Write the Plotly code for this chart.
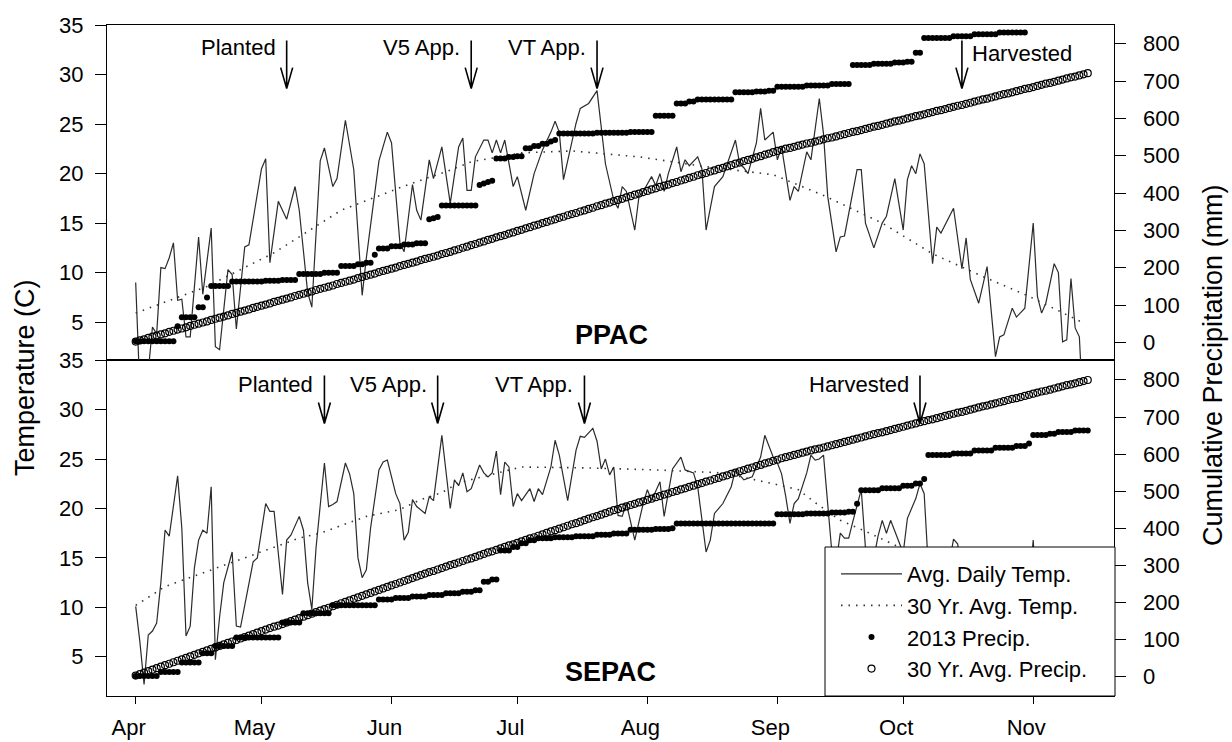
import numpy as np
import pandas as pd
import plotly.graph_objects as go

START = pd.Timestamp("2013-04-01")

month_labels = ["Apr", "May", "Jun", "Jul", "Aug", "Sep", "Oct", "Nov"]
month_starts = ["2013-04-01", "2013-05-01", "2013-06-01", "2013-07-01",
                "2013-08-01", "2013-09-01", "2013-10-01", "2013-11-01"]
temp_ticks = [5, 10, 15, 20, 25, 30, 35]
precip_ticks = [0, 100, 200, 300, 400, 500, 600, 700, 800]

event_labels = ["Planted", "V5 App.", "VT App.", "Harvested"]
ppac_event_dates = ["2013-05-07", "2013-06-20", "2013-07-20", "2013-10-15"]
sepac_event_dates = ["2013-05-16", "2013-06-12", "2013-07-17", "2013-10-05"]

# ---- PPAC: (day since Apr 1, deg C) ----
ppac_temp = [(0,9.0),(1,-2.0),(2,-1.0),(3,0.0),(4,4.5),(5,3.8),(6,10.5),(7,10.4),(8,11.5),(9,13.0),
    (10,7.2),(11,7.3),(12,3.5),(13,3.5),(15,13.6),(16,7.8),(18,14.5),(19,2.5),(20,2.2),(22,10.3),
    (23,9.8),(24,4.3),(26,12.6),(27,12.8),(30,20.5),(31,21.5),(32,11.0),(34,17.2),(36,15.4),(38,18.7),
    (39,16.3),(41,8.0),(42,6.5),(44,21.3),(45,22.6),(47,18.7),(48,19.5),(50,25.4),(52,20.4),(54,7.7),
    (55,11.5),(58,21.3),(60,24.2),(61,23.1),(63,13.0),(64,12.1),(66,18.9),(67,16.3),(68,15.3),(70,21.4),
    (71,19.5),(73,22.7),(75,17.0),(77,22.7),(78,23.6),(79,18.3),(80,18.3),(81,21.7),(83,23.4),(84,23.4),
    (85,22.1),(86,23.4),(87,22.1),(88,23.4),(90,18.7),(91,19.7),(93,16.3),(95,20.0),(97,22.4),(99,24.2),
    (100,25.3),(101,24.2),(102,19.4),(103,21.4),(105,25.1),(106,26.6),(108,27.1),(110,28.4),(111,24.8),
    (112,21.0),(114,17.3),(115,16.5),(116,18.7),(117,18.2),(119,14.3),(120,17.7),(121,18.2),(123,19.7),
    (124,18.8),(125,20.0),(126,18.2),(127,20.0),(129,22.7),(130,20.2),(131,21.4),(132,20.8),(134,21.7),
    (135,20.5),(136,14.3),(138,18.7),(140,19.7),(142,22.1),(143,23.4),(144,21.0),(145,20.6),(146,20.0),
    (148,23.1),(149,26.6),(150,23.4),(152,24.2),(153,21.4),(154,22.7),(156,17.3),(157,18.7),(158,18.2),
    (160,22.2),(161,21.4),(163,27.6),(164,24.0),(165,17.7),(167,12.1),(168,13.6),(169,13.7),(172,20.4),
    (173,20.4),(174,15.0),(176,12.5),(178,15.0),(179,15.7),(181,19.5),(183,14.3),(184,19.4),(185,20.8),
    (186,20.0),(187,22.0),(188,21.0),(190,10.9),(191,14.6),(192,14.0),(195,16.5),(197,10.4),(198,13.5),
    (199,9.3),(201,6.9),(203,10.6),(205,1.5),(206,3.5),(207,3.7),(209,6.4),(210,5.5),(212,6.4),(214,15.0),
    (215,7.6),(216,5.9),(217,6.9),(219,10.9),(220,10.0),(221,3.0),(222,3.2),(223,9.4),(224,4.4),(225,3.5),
    (226,-5.0)]

ppac_norm_temp = [(0,5.9),(17,8.6),(33,12.0),(49,16.3),(65,18.9),(74,20.2),(80,21.2),(92,22.1),
    (104,22.3),(120,21.7),(136,20.7),(152,19.9),(164,17.8),(178,15.0),(190,11.9),(202,9.6),
    (213,7.6),(226,4.9)]

# 2013 cumulative precipitation plateaus: (first day of plateau, mm)
ppac_precip_steps = [(0,4),(10,44),(11,68),(15,95),(17,121),(18,152),(23,164),(31,166),(35,168),
    (39,184),(45,187),(49,205),(53,210),(55,214),(57,235),(58,252),(61,258),(64,263),(67,266),
    (70,330),(71,333),(72,336),(73,367),(82,422),(83,426),(84,430),(85,433),(86,493),(89,497),
    (91,499),(93,520),(95,526),(97,532),(99,538),(100,542),(101,560),(110,562),(118,564),(124,607),
    (129,640),(132,645),(134,651),(143,670),(148,672),(151,674),(153,685),(160,688),(166,692),
    (171,743),(176,746),(181,750),(184,752),(186,776),(188,815),(195,820),(200,825),(206,830)]
ppac_precip_last_day = 212

# 30-yr average cumulative precipitation, one value per day from Apr 1 (mm)
ppac_norm_precip = [3,6,9,13,16,19,22,25,29,32,35,38,41,45,48,51,54,57,61,64,67,70,73,77,80,83,86,89,
    93,96,99,102,105,109,112,115,118,121,125,128,131,134,137,141,144,147,150,153,157,160,163,166,169,
    173,176,179,182,185,189,192,195,198,201,205,208,211,214,217,221,224,227,230,233,237,240,
    243,247,250,254,257,261,264,268,271,275,278,282,285,288,292,295,299,302,306,309,313,316,320,323,
    327,330,334,337,341,344,347,351,354,358,361,365,368,372,375,379,382,
    385,389,392,396,399,403,406,410,413,417,420,423,427,430,434,437,441,444,448,451,454,458,461,465,
    468,472,475,479,482,486,489,492,496,499,503,506,510,513,
    516,519,521,524,527,530,533,535,538,541,544,547,549,552,555,558,561,564,566,569,572,575,578,580,
    583,586,589,592,594,597,600,603,606,608,611,614,617,620,622,625,628,631,634,636,639,642,645,648,
    651,653,656,659,662,665,667,670,673,676,679,681,684,687,690,693,695,698,701,704,707,710,712,715,
    718,721]

# ---- SEPAC ----
sepac_temp = [(0,10.1),(1,6.5),(2,2.2),(3,7.2),(4,7.6),(5,8.4),(6,12.5),(7,17.8),(8,17.2),(9,20.5),
    (10,23.3),(11,18.0),(12,7.1),(13,8.1),(14,14.0),(15,16.8),(16,17.8),(17,17.5),(18,22.2),(19,4.7),
    (20,9.0),(21,12.5),(23,15.6),(24,8.1),(25,8.0),(28,14.6),(29,15.0),(31,20.5),(32,19.7),(33,19.7),
    (35,11.3),(36,16.8),(37,17.3),(39,19.2),(40,17.8),(41,12.5),(42,9.8),(43,16.0),(45,24.6),(46,20.2),
    (47,20.4),(48,20.7),(50,24.6),(51,23.5),(52,21.5),(53,15.0),(54,13.0),(55,13.8),(56,18.0),(58,23.9),
    (59,24.7),(60,24.9),(62,21.5),(63,20.5),(64,16.8),(65,17.6),(66,20.9),(67,20.2),(68,19.8),(69,19.5),
    (70,21.2),(71,20.8),(73,27.4),(75,20.0),(76,22.9),(77,22.3),(78,23.6),(79,21.7),(80,22.0),(82,24.4),
    (83,23.6),(84,23.2),(85,23.6),(86,25.8),(87,21.4),(88,24.7),(89,24.2),(90,20.2),(91,21.5),(92,20.8),
    (94,22.0),(95,20.7),(96,22.0),(97,21.4),(99,24.2),(100,26.9),(101,25.4),(103,20.8),(105,25.9),
    (106,27.3),(107,27.2),(109,28.1),(110,26.8),(111,24.0),(112,25.0),(113,23.4),(114,24.2),(115,19.3),
    (116,19.2),(117,20.5),(119,16.8),(120,18.8),(121,20.5),(122,21.9),(123,20.8),(125,22.7),(126,19.2),
    (128,24.0),(129,24.6),(130,25.2),(131,23.9),(133,23.6),(134,22.2),(135,18.8),(136,15.6),(137,16.8),
    (138,19.5),(140,20.5),(142,22.2),(143,23.9),(144,23.4),(145,22.9),(147,23.2),(149,25.2),(150,27.4),
    (152,25.2),(153,24.6),(154,23.5),(155,21.2),(156,18.5),(157,20.5),(158,21.0),(160,23.6),(161,25.4),
    (162,24.9),(163,25.0),(164,25.4),(165,20.2),(166,15.5),(167,14.5),(168,17.5),(169,17.0),(170,17.0),
    (171,18.7),(173,21.9),(174,16.0),(175,14.0),(176,15.0),(177,17.2),(178,18.8),(179,17.5),(180,18.8),
    (182,16.5),(183,15.5),(184,19.0),(186,21.0),(187,22.5),(188,21.5),(189,14.0),(190,12.0),(192,13.5),
    (194,14.5),(195,16.9),(196,16.4),(197,13.0),(198,10.0),(200,7.5),(202,10.5),(204,4.5),(206,6.0),
    (208,8.0),(210,7.0),(212,9.0),(213,12.0),(214,16.8),(215,9.0),(216,7.0),(218,11.0),(220,5.0),
    (222,9.0),(224,5.0),(225,3.5)]

sepac_norm_temp = [(0,10.2),(7,12.1),(24,14.7),(39,17.0),(44,17.5),(55,19.2),(63,19.9),(68,20.9),
    (73,21.6),(77,22.6),(92,24.2),(108,24.1),(124,23.9),(140,23.6),(152,22.5),(158,21.9),(162,20.6),
    (168,18.8),(175,17.5),(190,14.5),(205,11.0),(227,6.5)]

sepac_precip_steps = [(0,2),(6,13),(11,38),(16,63),(19,83),(24,106),(35,146),(40,171),(47,193),
    (58,208),(62,212),(66,216),(70,220),(74,225),(78,229),(81,233),(83,256),(85,262),(87,340),
    (90,350),(92,360),(94,368),(96,373),(100,376),(105,379),(110,383),(114,386),(118,396),(124,398),
    (128,400),(129,413),(153,438),(160,440),(166,443),(170,445),(172,466),(173,503),(178,508),
    (183,515),(186,521),(188,533),(189,598),(195,602),(200,610),(205,617),(210,622),(213,629),
    (214,652),(218,655),(220,660),(224,664)]
sepac_precip_last_day = 227

sepac_norm_precip = [3,7,11,15,19,23,27,31,35,39,43,47,51,55,59,63,67,71,75,79,83,87,91,95,99,103,
    107,111,115,119,123,127,131,135,138,142,146,150,154,158,162,166,170,174,178,182,186,190,194,198,
    202,206,210,214,218,222,226,230,234,238,242,246,250,254,258,262,266,270,274,
    278,282,285,289,293,297,301,304,308,312,316,319,323,327,331,335,338,342,346,350,354,357,361,365,
    369,373,376,380,384,388,392,395,399,403,407,411,414,418,422,426,430,433,437,441,445,449,
    452,456,459,463,466,470,473,477,480,484,487,491,494,498,501,505,508,512,515,519,522,526,529,533,
    536,540,543,547,550,554,557,561,564,568,571,575,578,582,585,589,
    592,595,598,601,604,607,610,613,615,618,621,624,627,630,633,636,639,642,645,648,651,654,657,659,
    662,665,668,671,674,677,680,683,
    686,689,692,694,697,700,703,706,709,712,714,717,720,723,726,729,731,734,737,740,743,746,749,751,
    754,757,760,763,766,769,771,774,777,780,783,786,788,791,794,797,800]

ARROW_TIP_TEMP = 28.6

# ---------------------------------------------------------------
def to_dates(days):
    return START + pd.to_timedelta(np.asarray(days, dtype=float), unit="D")

def split(pairs):
    d, v = zip(*pairs)
    return to_dates(d), list(v)

def expand_steps(steps, last_day):
    starts = np.array([s for s, _ in steps])
    vals = np.array([v for _, v in steps])
    days = np.arange(0, last_day + 1)
    idx = np.searchsorted(starts, days, side="right") - 1
    return to_dates(days), vals[idx]

FONT = "Liberation Sans, Arial, sans-serif"
TEMP_LINE = dict(color="#2b2b2b", width=1.2)
NORM_LINE = dict(color="#333333", width=1.6, dash="1.5px,6px")
DOT = dict(symbol="circle", size=6, color="black")
OPEN = dict(symbol="circle-open", size=7, color="black", line=dict(width=1.2, color="black"))

fig = go.Figure()

def add_site(temp, norm_temp, steps, last_day, norm_precip, xa, ya_t, ya_p, legend):
    x, y = split(temp)
    fig.add_trace(go.Scatter(x=x, y=y, mode="lines", line=TEMP_LINE, name="Avg. Daily Temp.",
                             xaxis=xa, yaxis=ya_t, showlegend=legend))
    x, y = split(norm_temp)
    fig.add_trace(go.Scatter(x=x, y=y, mode="lines", line=NORM_LINE, name="30 Yr. Avg. Temp.",
                             xaxis=xa, yaxis=ya_t, showlegend=legend))
    x, y = expand_steps(steps, last_day)
    fig.add_trace(go.Scatter(x=x, y=y, mode="markers", marker=DOT, name="2013 Precip.",
                             xaxis=xa, yaxis=ya_p, showlegend=legend))
    fig.add_trace(go.Scatter(x=to_dates(np.arange(len(norm_precip))), y=norm_precip, mode="markers",
                             marker=OPEN, name="30 Yr. Avg. Precip.",
                             xaxis=xa, yaxis=ya_p, showlegend=legend))

add_site(ppac_temp, ppac_norm_temp, ppac_precip_steps, ppac_precip_last_day, ppac_norm_precip,
         "x2", "y", "y2", False)
add_site(sepac_temp, sepac_norm_temp, sepac_precip_steps, sepac_precip_last_day, sepac_norm_precip,
         "x", "y3", "y4", True)

# ---------------------------------------------------------------
W, H = 1232, 742
L, R, T, B = 107, 118, 25, 46
PW, PH = W - L - R, H - T - B
split_frac = (H - B - 360) / PH

xr = [START + pd.Timedelta(days=-6.84), START + pd.Timedelta(days=233.26)]
tickfont = dict(family=FONT, size=22, color="black")
axis_common = dict(showgrid=False, zeroline=False, showline=True, linecolor="black", linewidth=1,
                   tickcolor="black", tickwidth=1, tickfont=tickfont, automargin=False)

fig.update_layout(
    width=W, height=H, margin=dict(l=L, r=R, t=T, b=B, autoexpand=False),
    paper_bgcolor="white", plot_bgcolor="white",
    font=dict(family=FONT, color="black"),
    xaxis=dict(domain=[0, 1], anchor="y3", type="date", range=xr, tickvals=month_starts,
               ticktext=month_labels, ticks="outside", ticklen=7, mirror=True,
               ticklabelshift=-7, ticklabelstandoff=5, **axis_common),
    xaxis2=dict(domain=[0, 1], anchor="y", type="date", matches="x", showticklabels=False,
                ticks="", mirror=True, **axis_common),
    yaxis=dict(domain=[split_frac, 1], anchor="x2", range=[1.16, 35.03],
               tickvals=temp_ticks, ticks="outside", ticklen=11,
               ticklabelstandoff=7, **axis_common),
    yaxis2=dict(domain=[split_frac, 1], anchor="x2", overlaying="y", side="right",
                range=[-46.3, 850], tickvals=precip_ticks, ticks="outside",
                ticklen=11, showticklabels=False, **axis_common),
    yaxis3=dict(domain=[0, split_frac], anchor="x", range=[1.03, 35.02],
                tickvals=temp_ticks, ticks="outside", ticklen=11,
                ticklabelstandoff=7, **axis_common),
    yaxis4=dict(domain=[0, split_frac], anchor="x", overlaying="y3", side="right",
                range=[-52, 853.9], tickvals=precip_ticks, ticks="outside",
                ticklen=11, showticklabels=False, **axis_common),
    legend=dict(x=(836 - L) / PW, xanchor="left", y=(H - B - 553) / PH, yanchor="top",
                bgcolor="rgba(0,0,0,0)", borderwidth=0, font=dict(family=FONT, size=22, color="black"),
                itemwidth=61, tracegroupgap=0),
)

shapes = []
# legend frame
shapes.append(dict(type="rect", xref="paper", yref="paper", x0=(825 - L) / PW, x1=(1115 - L) / PW,
                   y0=0, y1=(H - B - 547) / PH, fillcolor="white",
                   line=dict(color="black", width=1), layer="above"))

annotations = []
# right-axis tick labels (left-aligned, set farther out as in the original)
for yref in ("y2", "y4"):
    for v in precip_ticks:
        annotations.append(dict(text=str(v), xref="paper", x=1, xanchor="left", xshift=27,
                                yref=yref, y=v, yanchor="middle", showarrow=False,
                                font=tickfont))

def add_events(dates, xref, yref, label_dy, harvest_right):
    for lab, d in zip(event_labels, dates):
        shapes.append(dict(type="path", xref=xref, yref=yref, xsizemode="pixel", ysizemode="pixel",
                           xanchor=d, yanchor=ARROW_TIP_TEMP,
                           path="M0,0 V48 M0,0 L-6,21 M0,0 L6,21",
                           line=dict(color="black", width=1.6), layer="above"))
        right = harvest_right and lab == "Harvested"
        annotations.append(dict(text=lab, xref=xref, yref=yref, x=d, y=ARROW_TIP_TEMP,
                                xanchor="left" if right else "right", yanchor="middle",
                                xshift=8 if right else -9,
                                yshift=label_dy - (6 if right else 0),
                                showarrow=False, font=dict(family=FONT, size=22, color="black")))

add_events(ppac_event_dates, "x2", "y", 41, True)
add_events(sepac_event_dates, "x", "y3", 39, False)

annotations += [
    dict(text="<b>PPAC</b>", xref="paper", yref="paper", x=(611 - L) / PW, y=(H - B - 335) / PH,
         xanchor="center", yanchor="middle",
         showarrow=False, font=dict(family=FONT, size=27, color="black")),
    dict(text="<b>SEPAC</b>", xref="paper", yref="paper", x=(610 - L) / PW, y=(H - B - 672) / PH,
         xanchor="center", yanchor="middle",
         showarrow=False, font=dict(family=FONT, size=27, color="black")),
    dict(text="Temperature (C)", xref="paper", yref="paper", x=0, xshift=25 - L,
         y=(H - B - 378) / PH, textangle=-90, xanchor="center", yanchor="middle", showarrow=False,
         font=dict(family=FONT, size=27, color="black")),
    dict(text="Cumulative Precipitation (mm)", xref="paper", yref="paper", x=1, xshift=1213 - (W - R),
         y=(H - B - 365) / PH, textangle=-90, xanchor="center", yanchor="middle", showarrow=False,
         font=dict(family=FONT, size=27, color="black")),
]

fig.update_layout(shapes=shapes, annotations=annotations)
fig.write_html("out.html")
